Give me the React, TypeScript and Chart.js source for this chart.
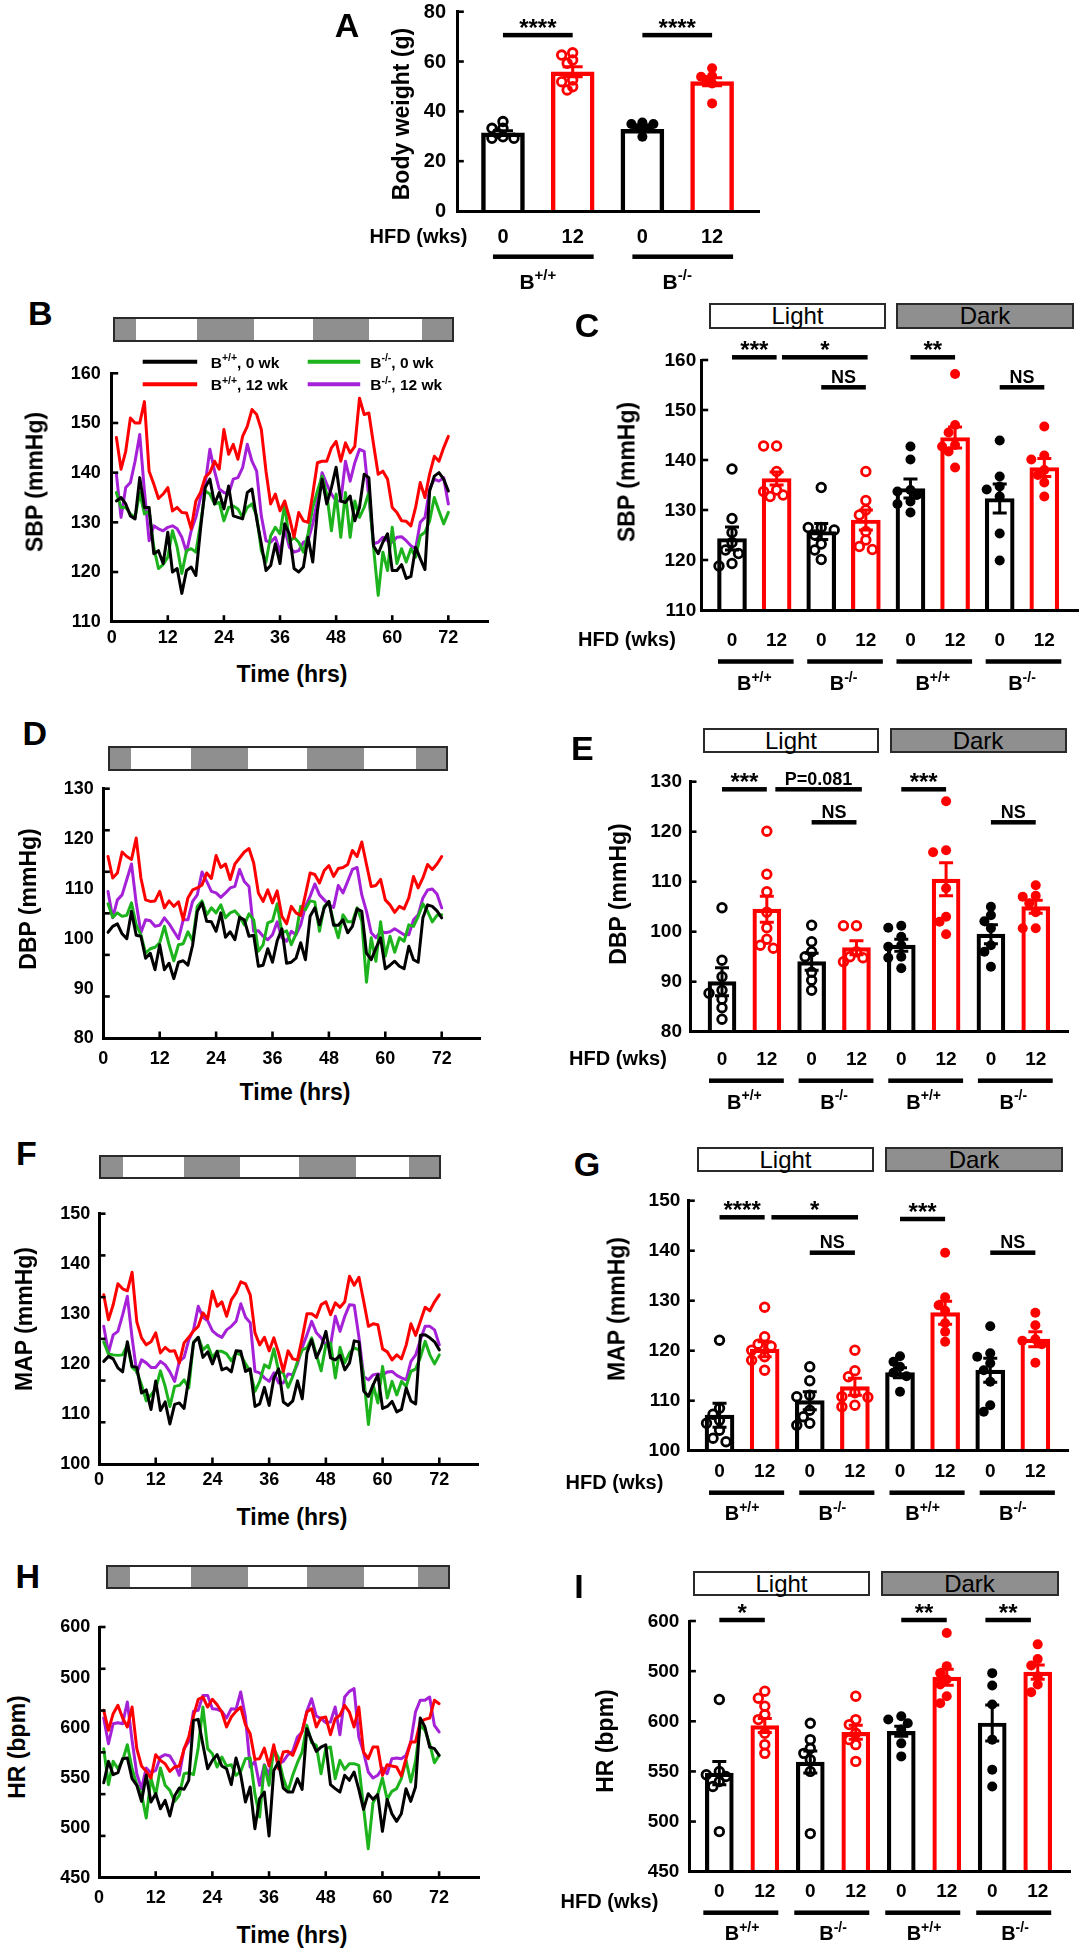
import React, { useEffect, useRef } from 'react';
import { Chart, registerables } from 'chart.js';

Chart.register(...registerables);

const FONT = '"Liberation Sans", Arial, Helvetica, sans-serif';
const BLACK = '#000000';
const RED = '#ff0000';
const GREEN = '#1db31d';
const PURPLE = '#a521d8';
const GRAY = '#8f8f8f';

// ---------------- time-series data (hourly means, 72 h) ----------------
const HOURS = Array.from({ length: 72 }, (_, i) => i + 1);
const TIME_TICKS = [0, 12, 24, 36, 48, 60, 72];
const DARK_PERIODS = [[0, 4.5], [17.5, 29.6], [42.2, 54.3], [65.6, 72]];

const SBP_WT0 = [134.3, 135, 133.7, 131.3, 130.7, 139, 133, 133, 123.7, 124.3, 121.7, 128, 120, 120.7, 115.7, 120.3, 121, 119.3, 128.7, 137, 138.7, 133.7, 136, 132.7, 137.3, 131.3, 131, 130.7, 136, 136.7, 130.7, 125.7, 120.3, 121.3, 125.7, 121.7, 129.7, 127.7, 120.7, 120, 121, 127, 122, 132.3, 138.7, 133.7, 137, 141.1, 134.3, 134, 135.3, 130.3, 133, 139.7, 139, 125.3, 123.7, 126, 127.7, 120.3, 120.3, 121.5, 118.7, 119.1, 125, 122.7, 120.5, 136.3, 139.3, 140, 138.7, 136.3];
const SBP_KO0 = [136, 133, 133, 131.7, 131, 136, 131.7, 132.3, 125, 120.7, 121.5, 123, 128.3, 125, 119.7, 124.3, 124.7, 124, 129.7, 136.3, 135.7, 133.7, 134, 130.3, 133, 133.3, 132.7, 131, 133, 133.7, 131.3, 124.3, 122, 127.3, 129, 127.7, 133.7, 126, 127, 126, 124, 127.7, 133, 136.3, 139.3, 135.7, 128.3, 135.7, 127, 136, 127, 134.3, 131, 133, 136, 125, 115.3, 124, 120.3, 129, 121.7, 124.7, 122, 124.7, 123, 127.3, 128, 130.3, 135, 132.3, 129.7, 132];
const SBP_WT12 = [147.1, 140.7, 144.3, 151, 150, 150, 154.3, 140.3, 137.7, 134.8, 135.7, 137, 132.3, 133, 132, 131.9, 128.7, 134.3, 136, 139.1, 140, 142.3, 140.7, 148.7, 143.7, 145.7, 142.7, 147.3, 149.3, 152.7, 151.7, 148.7, 140.3, 133.7, 135.7, 132.3, 134.3, 131, 127, 132, 130.3, 130, 135.7, 142, 142.3, 142.3, 145, 146.3, 142.3, 146, 144, 145.3, 155, 151.7, 152, 145.7, 139.7, 140.3, 138.7, 133, 132, 130.3, 130.2, 129.3, 133, 138, 135, 139.7, 143.3, 142.3, 145, 147.3];
const SBP_KO12 = [139.7, 131, 137, 138, 142.3, 147.7, 136.3, 126.3, 129.3, 128.7, 128.3, 129, 129.3, 128.7, 127, 124, 128.3, 131, 135, 137.7, 144.7, 140.3, 136.7, 136, 135.7, 138.7, 139, 141, 145.7, 142.3, 140.3, 131.3, 126.3, 126, 127, 124, 128.7, 125, 124, 124.3, 126, 126.3, 129.7, 134.3, 140, 137.7, 135.7, 134.3, 134.3, 142.3, 138.3, 142, 144.7, 144.3, 135, 125.7, 126, 127, 126.3, 126, 127, 127.1, 126.3, 125.3, 124.7, 130, 131, 136.7, 138.7, 138.3, 139, 133.7];

const DBP_WT0 = [101.2, 102.4, 102.9, 100.9, 99.9, 105.4, 100.6, 100.4, 96, 97, 93.7, 98.7, 93.7, 95, 91.9, 95.2, 95.5, 94.6, 98.6, 105.4, 107.1, 103.4, 103.3, 101.4, 105.1, 100.2, 101.3, 99.7, 104.2, 103.7, 100.4, 100.6, 94.4, 94.6, 97.9, 95.2, 99.5, 101.9, 95, 95.2, 96, 99.1, 95.7, 104.4, 106.1, 102.7, 106.1, 107.4, 102.6, 102.6, 103.7, 101.1, 102.4, 105.9, 105.4, 97, 95.7, 98, 100.1, 93.9, 94.6, 95.4, 94.4, 93.9, 98.4, 95.7, 95.2, 104.1, 106.7, 106.4, 105.5, 104.1];
const DBP_KO0 = [106.9, 104.2, 105.1, 104.4, 104.6, 107.1, 102.7, 100.7, 97, 97.9, 98.2, 99.1, 102.4, 98.7, 95.5, 98.7, 98.9, 101.3, 99.5, 106.4, 107.5, 104.7, 106.1, 105.1, 106.7, 104.1, 105.1, 105.5, 104.4, 102.7, 104.9, 103.7, 97.4, 98.7, 103.1, 103.5, 106.9, 101.1, 101.5, 98.7, 100.9, 106.4, 105.7, 107.5, 107.3, 101.4, 106.4, 107.3, 103.3, 100.1, 104.7, 103.3, 103.3, 106.1, 103.4, 91.2, 100.1, 95.4, 103.3, 96.4, 100.4, 97.2, 100.1, 99.4, 102.7, 102.4, 104.4, 106.9, 105.4, 103.3, 104.6, 104.7];
const DBP_WT12 = [116.4, 112.1, 113.1, 117.3, 116.4, 115.8, 120.1, 112.1, 107.7, 107.4, 107.5, 109.4, 106.1, 107.5, 106.4, 107.3, 103.7, 108.1, 109.7, 110.1, 110.7, 113.1, 112, 116.6, 114.2, 114.9, 111.8, 114.9, 116.1, 117.3, 118, 115.1, 109.1, 107.4, 109.7, 107.1, 109.5, 104.4, 102.9, 106.4, 105.1, 104.6, 108.7, 113.1, 112.8, 111.1, 113.6, 114.6, 112.4, 114, 114.2, 114.8, 117.6, 116.4, 119.3, 114.8, 110.4, 110.6, 111.8, 107.7, 106.7, 105.2, 106.4, 105.9, 108.1, 112.4, 110.1, 112.1, 114.8, 113.8, 114.9, 116.4];
const DBP_KO12 = [109.4, 104.1, 107.7, 108.7, 111.8, 114.9, 107.1, 101.1, 103.7, 103.5, 102.4, 102.6, 104.1, 102.9, 101.4, 99.9, 103.7, 103.7, 107.4, 108.7, 113.3, 111.4, 109.4, 109.1, 108.2, 109.1, 110.1, 110.4, 113.8, 111.4, 110.4, 101.4, 101.5, 100.4, 99.7, 100.7, 103.3, 100.1, 99.4, 101.4, 100.7, 102.7, 106.4, 108.4, 110.9, 108.7, 107.7, 106.7, 106.2, 110.6, 109.1, 111.4, 113.8, 114.2, 108.7, 105.4, 101.1, 100.1, 101.4, 101.1, 101.3, 101.9, 101.3, 100.7, 100.7, 103.7, 104.7, 108.1, 109.7, 109.9, 108.9, 106.1];

const MAP_WT0 = [120.5, 121.5, 121, 119.2, 118.4, 124.4, 119.5, 119.3, 114.2, 114.8, 110.9, 116.6, 110.7, 112.4, 108, 111.9, 112.2, 111.1, 117.2, 124.2, 125.3, 121.3, 122.4, 120, 122.5, 118.8, 119.2, 118.4, 122.6, 122.5, 118.5, 119, 111.5, 112, 115.3, 111.7, 117.2, 119, 112.4, 111.7, 112.6, 116.6, 113, 122.2, 124.8, 121.2, 123.3, 126.5, 121.2, 120.8, 121.7, 118.8, 120.2, 124.6, 124.4, 114.6, 113.5, 115.8, 117.8, 111.1, 111.5, 112.5, 110.4, 110.9, 115.2, 112.6, 112, 125.7, 125.8, 125.2, 124.4, 122.8];
const MAP_KO0 = [124.4, 122, 121.8, 121.7, 121.8, 123.8, 119.3, 118.5, 115.8, 112.6, 113.8, 115, 118.6, 115.5, 111.5, 115.5, 115.7, 116.8, 115.2, 124.4, 125.3, 122.8, 123.7, 121.3, 122.5, 122.5, 122, 120.6, 122.2, 121.8, 120, 118.5, 114.5, 116.5, 119.8, 119.2, 123, 118.5, 118.2, 115.3, 117.5, 120.5, 122.8, 123.2, 125.2, 121.8, 118.6, 123.8, 124.2, 117.2, 123.3, 120.2, 122.2, 123.2, 122.8, 117.5, 107.9, 115.8, 112.2, 119.5, 113.2, 116.5, 113.8, 116.5, 115.5, 118.5, 119, 121.3, 124.5, 121.8, 120, 121.8];
const MAP_WT12 = [133.8, 128.8, 131.8, 136, 135, 134.6, 138.3, 128.4, 125.2, 123.8, 124.4, 126.2, 122.2, 123.3, 122.5, 122.6, 120.2, 124.2, 125.3, 126.6, 127.5, 130.2, 129, 134.5, 131.5, 132.4, 129.5, 132.8, 134.2, 136.4, 136, 133.8, 126.2, 123.8, 125.3, 122.6, 125.2, 122.2, 118.5, 122.6, 121, 120.8, 125.2, 130, 130, 129.3, 131.8, 132.4, 129.8, 132.2, 131.3, 132.4, 137.5, 135.7, 137.3, 132.5, 127.5, 128, 127.8, 123, 122.4, 120.8, 121.8, 121, 123.8, 128, 125.7, 128.5, 131.3, 130.6, 132.4, 133.8];
const MAP_KO12 = [127.5, 122.2, 125.8, 126.5, 129.8, 133.5, 125.2, 118.2, 120.8, 120.2, 119.3, 119.3, 120.5, 119.8, 118.4, 116.5, 120.5, 121.3, 124.8, 126.8, 131.5, 129.3, 128.6, 126.6, 125.8, 125.3, 126.8, 127.5, 128.5, 132, 129.3, 128.2, 118.5, 118.2, 117.2, 116.5, 118.2, 116.2, 116.2, 118, 117.8, 120, 123.3, 125.8, 128.5, 126.2, 125.2, 123.8, 123.8, 129.5, 126.5, 129.5, 131.8, 131.7, 125.3, 117.5, 116.8, 117.8, 118, 117.8, 118.4, 118.5, 117.7, 117.2, 116.8, 120.5, 121.8, 124.8, 127.5, 127.5, 126.8, 123.8];

const HR_WT0 = [544.7, 566, 552.7, 554.7, 568.7, 569.4, 548.7, 542.1, 526.1, 552.1, 525.5, 533.8, 518.8, 527.1, 511.5, 531.5, 539.4, 538.1, 547.1, 606.9, 607.9, 582.6, 558.7, 567, 572.7, 561.4, 558.7, 542.8, 569.4, 552.7, 525.5, 540.4, 498.9, 528.8, 535.4, 491.6, 557, 565.4, 539.4, 535.4, 535.4, 548.7, 538.1, 598.6, 587, 576, 580.3, 582.6, 542.8, 538.8, 535.4, 552.1, 547.1, 555.4, 538.1, 518.2, 533.8, 528.1, 532.8, 496.2, 528.1, 513.8, 506.2, 513.8, 538.8, 526.1, 540.4, 609.2, 600.3, 580.3, 578.7, 572];
const HR_KO0 = [578.7, 542.8, 566, 558.7, 567, 582.6, 558.7, 542.8, 533.8, 509.5, 549.4, 532.1, 559.4, 542.1, 537.1, 526.1, 532.1, 553.7, 554.7, 552.7, 579.3, 620.2, 578.7, 573.7, 560.4, 570.3, 561.4, 562.7, 552.1, 556, 568.7, 569.4, 533.8, 510.5, 562, 542.1, 578.7, 569.4, 549.4, 536.1, 552.1, 564.7, 575.3, 601.9, 584.6, 582, 553.7, 578.7, 580.3, 548.7, 567, 558, 563.7, 563.7, 562, 520.5, 478.9, 524.8, 532.8, 549.4, 528.1, 536.1, 538.8, 548.7, 567, 545.4, 566, 601.9, 597, 583.6, 564.7, 572];
const HR_WT12 = [616.9, 597, 613.6, 621.9, 609.2, 600.3, 620.2, 578.7, 561.4, 556, 549.4, 572.7, 567, 563.7, 556, 560.4, 561.4, 578, 590.3, 611.2, 627.9, 630.2, 620.2, 627.9, 622.5, 615.2, 600.3, 610.2, 615.9, 620.2, 602.6, 593.6, 568, 568.7, 579.3, 561.4, 582.6, 558.7, 575.3, 576, 572, 583.6, 596, 615.2, 618.5, 600.3, 609.2, 610.2, 592.6, 608.6, 611.9, 621.9, 615.2, 600.3, 620.2, 575.3, 568.7, 580.3, 580.3, 552.1, 562.7, 561.4, 560.4, 551.4, 568.7, 585.3, 585.3, 605.3, 607.9, 609.2, 626.9, 623.5];
const HR_KO12 = [609.2, 583.6, 603.6, 604.6, 603.6, 625.2, 587, 553.7, 538.8, 559.4, 554.7, 557, 570.3, 572.7, 571.3, 563.7, 552.1, 578.7, 586, 615.9, 616.9, 631.8, 631.8, 618.5, 617.9, 615.9, 609.2, 618.5, 617.9, 635.2, 610.2, 560.4, 566, 542.1, 562.7, 552.1, 578, 563.7, 566, 572.7, 576, 590.3, 595.3, 615.9, 628.5, 611.2, 608.6, 604.6, 605.3, 620.2, 592.6, 630.2, 635.8, 638.5, 590.3, 575.3, 555.4, 549.4, 552.1, 559.4, 553.7, 568.7, 569.4, 568.7, 572, 585.3, 615.2, 626.9, 626.9, 630.2, 601.9, 595.3];

// ---------------- bar / dot data ----------------
const HFD_4 = ['0', '12', '0', '12'];
const GENO_4 = ['+/+', '-/-'];
const FILLED_4 = [false, false, true, true];
const HFD_8 = ['0', '12', '0', '12', '0', '12', '0', '12'];
const GENO_8 = ['+/+', '-/-', '+/+', '-/-'];
const FILLED_8 = [false, false, false, false, true, true, true, true];

const BW_MEAN = [31.4, 55.9, 32.8, 51.9];
const BW_SEM = [0.8, 2.0, 0.6, 1.6];
const BW_POINTS = [
  [35.9, 33.2, 33.2, 31.2, 29.8, 29.2, 29.2],
  [63.5, 62.6, 60.6, 59.3, 52.6, 51.9, 49.9, 48.6],
  [34.9, 35.5, 34.9, 33.2, 33.2, 29.8],
  [57.3, 53.9, 54.2, 51.2, 52.6, 43.2],
];

const SBP_MEAN = [124.3, 136.3, 125.7, 128, 134.3, 144.5, 132.3, 138.5];
const SBP_SEM = [2.3, 1.3, 1.6, 2.0, 1.9, 2.1, 2.9, 1.8];
const SBP_POINTS = [
  [138.2, 128.3, 125.5, 123.5, 122, 121.3, 119.3, 118.8],
  [142.8, 142.8, 137.7, 134, 133.7, 133, 132.7],
  [134.5, 126.5, 126.5, 126, 125, 123.2, 122, 120.1],
  [137.7, 131.9, 130, 129, 125.7, 124, 122.7, 122.1],
  [142.7, 140.1, 134, 133.7, 133, 131.7, 131.2, 129.5],
  [157.2, 147, 145.5, 143, 142.7, 141.7, 138.5],
  [143.9, 136.7, 134.7, 134.1, 132.7, 125.3, 119.9],
  [146.7, 140.9, 140.1, 138, 137, 135.5, 132.7],
];

const DBP_MEAN = [90, 104.5, 94, 96.8, 97.3, 110.5, 99.5, 105];
const DBP_SEM = [2.8, 2.6, 1.7, 1.4, 1.2, 3.3, 1.9, 1.3];
const DBP_POINTS = [
  [104.8, 94.3, 91, 88.3, 87.7, 86.5, 84.8, 82.5],
  [120.1, 111.5, 108, 103.9, 100.8, 98.5, 97.3, 96.7],
  [101.3, 98, 96, 95, 91.9, 90.3, 88.3],
  [101.2, 101.2, 96, 95, 94.8, 94],
  [100.8, 101.2, 99, 97.3, 97, 95, 94.8, 92.7],
  [126.1, 116.3, 115.9, 108.7, 103, 102, 99.5],
  [105, 103.3, 102.1, 100.7, 97.3, 96, 93],
  [109.3, 107.2, 107, 105.7, 103.9, 100.7, 100.7],
];

const MAP_MEAN = [107.1, 120.3, 110, 112.8, 115.6, 127.6, 116.1, 122.3];
const MAP_SEM = [2.4, 1.5, 1.8, 1.7, 1.0, 2.3, 2.4, 1.5];
const MAP_POINTS = [
  [122.1, 108.5, 107.3, 106.1, 105.5, 104.1, 102.5, 101.8],
  [128.7, 122.8, 121.3, 120.9, 120.1, 118.8, 118.1, 116.1],
  [116.8, 114, 111.1, 110.8, 108.1, 106.8, 105.5, 105.1],
  [120.1, 116, 114.8, 111.6, 110.8, 110.7, 109.1, 108.8],
  [118.9, 117.8, 116.8, 115.6, 114.9, 111.8],
  [139.6, 130.7, 129.1, 128, 125.5, 123.8, 121.8],
  [124.9, 119.5, 118.8, 117.5, 116.1, 113.8, 109.1, 107.8],
  [127.6, 125.1, 122.3, 122, 121.3, 117.6],
];

const HR_MEAN = [548.3, 595.7, 559.3, 589, 590, 644, 598.3, 649];
const HR_SEM = [11.7, 7, 11, 7, 5, 8, 18, 7];
const HR_POINTS = [
  [621.7, 550, 546.7, 545, 540, 535, 490],
  [630, 623, 615, 606.7, 601.7, 588, 576.7, 568],
  [598, 581.7, 573, 568, 561.7, 550, 488],
  [625, 601.7, 596.7, 588, 581.7, 576.7, 560],
  [605, 601.7, 598, 591.7, 578, 565],
  [688, 655, 648, 641.7, 636.7, 625, 618],
  [648, 635.7, 616.7, 581.7, 551.7, 535],
  [676.7, 662, 655.7, 645, 636.7, 629],
];

// axis ticks
const BW_TICKS = [0, 20, 40, 60, 80];
const SBP_TICKS = [110, 120, 130, 140, 150, 160];
const DBP_TICKS = [80, 90, 100, 110, 120, 130];
const MAP_TICKS = [100, 110, 120, 130, 140, 150];
const HR_TICKS = [450, 500, 550, 600, 650, 700];
const HR_TICK_LABELS = ['450', '500', '550', '600', '500', '600'];

// significance annotations
const A_SIGS = [
  { a: 1, b: 2, y: 70.6, text: '****' },
  { a: 3, b: 4, y: 70.6, text: '****' },
];
const C_SIGS = [
  { a: 1, b: 2, y: 160.54, text: '***' },
  { a: 2.12, b: 4.04, y: 160.54, text: '*' },
  { a: 5, b: 6, y: 160.54, text: '**' },
  { a: 3, b: 4, y: 154.54, text: 'NS' },
  { a: 7, b: 8, y: 154.54, text: 'NS' },
];
const E_SIGS = [
  { a: 1, b: 2, y: 128.48, text: '***' },
  { a: 2.19, b: 4.12, y: 128.48, text: 'P=0.081' },
  { a: 5, b: 6, y: 128.48, text: '***' },
  { a: 3, b: 4, y: 121.88, text: 'NS' },
  { a: 7, b: 8, y: 121.88, text: 'NS' },
];
const G_SIGS = [
  { a: 1, b: 2, y: 146.68, text: '****' },
  { a: 2.15, b: 4.07, y: 146.68, text: '*' },
  { a: 5, b: 6, y: 146.34, text: '***' },
  { a: 3, b: 4, y: 139.6, text: 'NS' },
  { a: 7, b: 8, y: 139.6, text: 'NS' },
];
const I_SIGS = [
  { a: 1, b: 2, y: 701, text: '*' },
  { a: 5, b: 6, y: 701, text: '**' },
  { a: 6.85, b: 7.85, y: 701, text: '**' },
];

const SERIES_NAMES = {
  wt0: ['B', '+/+', ', 0 wk'],
  ko0: ['B', '-/-', ', 0 wk'],
  wt12: ['B', '+/+', ', 12 wk'],
  ko12: ['B', '-/-', ', 12 wk'],
};
const SERIES_COLORS = { wt0: BLACK, ko0: GREEN, wt12: RED, ko12: PURPLE };
// drawn top-most first
const SERIES_ORDER = ['wt0', 'wt12', 'ko0', 'ko12'];

// ---------------- helpers ----------------
function font(size, weight = 'bold') {
  return `${weight} ${size}px ${FONT}`;
}

function drawSup(ctx, parts, x, yCenter, size, supSize, align) {
  const [base, sup, rest] = parts;
  ctx.font = font(size);
  const w1 = ctx.measureText(base).width;
  const w3 = rest ? ctx.measureText(rest).width : 0;
  ctx.font = font(supSize);
  const w2 = ctx.measureText(sup).width;
  const total = w1 + w2 + w3;
  const sx = align === 'center' ? x - total / 2 : x;
  const by = yCenter + 0.358 * size;
  ctx.textAlign = 'left';
  ctx.textBaseline = 'alphabetic';
  ctx.font = font(size);
  ctx.fillText(base, sx, by);
  ctx.font = font(supSize);
  ctx.fillText(sup, sx + w1, by - 0.42 * size);
  if (rest) {
    ctx.font = font(size);
    ctx.fillText(rest, sx + w1 + w2, by);
  }
}

function swarm(pys, cx, minDist, step) {
  const order = pys.map((_, i) => i).sort((a, b) => pys[a] - pys[b]);
  const placed = [];
  const out = new Array(pys.length);
  for (const i of order) {
    const y = pys[i];
    for (let k = 0; k < 16; k++) {
      const off = (k % 2 === 1 ? -1 : 1) * Math.ceil(k / 2) * step;
      const x = cx + off;
      if (placed.every(([px, py]) => Math.hypot(px - x, py - y) >= minDist)) {
        placed.push([x, y]);
        out[i] = [x, y];
        break;
      }
    }
    if (!out[i]) out[i] = [cx, y];
  }
  return out;
}

function layoutFor(box, area) {
  return {
    autoPadding: false,
    padding: {
      left: area.left - box.left,
      top: area.top - box.top,
      right: box.left + box.width - area.right,
      bottom: box.top + box.height - area.bottom,
    },
  };
}

function axisOpts(isX, min, max) {
  return {
    type: 'linear',
    min,
    max,
    offset: false,
    display: true,
    grid: { display: false, drawTicks: false },
    ticks: { display: false },
    border: { display: true, color: '#000', width: 3, z: 1 },
    afterFit: (s) => {
      if (isX) s.height = 0;
      else s.width = 0;
    },
  };
}

function baseOptions(box, area) {
  return {
    responsive: false,
    maintainAspectRatio: false,
    animation: false,
    devicePixelRatio: 1,
    events: [],
    layout: layoutFor(box, area),
    plugins: { legend: { display: false }, tooltip: { enabled: false }, title: { display: false } },
  };
}

// ---------------- line panels ----------------
function lineConfig(p) {
  const plugin = {
    id: 'linePanel' + p.id,
    afterDraw(chart) {
      const { ctx, chartArea: a } = chart;
      const xs = chart.scales.x;
      const ys = chart.scales.y;
      ctx.save();
      ctx.strokeStyle = '#000';
      ctx.fillStyle = '#000';
      ctx.lineWidth = 2.6;
      const marks = p.yMarkDiv
        ? Array.from({ length: p.yMarkDiv }, (_, k) => p.yMin + ((k + 1) * (p.yMax - p.yMin)) / p.yMarkDiv)
        : p.yTicks.filter((v) => v > p.yMin);
      marks.forEach((v) => {
        const y = ys.getPixelForValue(v);
        ctx.beginPath();
        ctx.moveTo(a.left, y);
        ctx.lineTo(a.left + 6.5, y);
        ctx.stroke();
      });
      TIME_TICKS.filter((t) => t > 0).forEach((t) => {
        const x = xs.getPixelForValue(t);
        ctx.beginPath();
        ctx.moveTo(x, a.bottom);
        ctx.lineTo(x, a.bottom - 6.5);
        ctx.stroke();
      });
      ctx.font = font(18);
      ctx.textAlign = 'right';
      ctx.textBaseline = 'middle';
      p.yTicks.forEach((v, i) => ctx.fillText(p.yLabels[i], a.left - p.yGap, ys.getPixelForValue(v) + 0.5));
      ctx.textAlign = 'center';
      TIME_TICKS.forEach((t) => ctx.fillText(String(t), xs.getPixelForValue(t), a.bottom + p.xLabOff));
      if (p.legend) {
        const pos = { wt0: [0, 0], ko0: [1, 0], wt12: [0, 1], ko12: [1, 1] };
        const rowsY = [-11.6, 11];
        const lineX = [[31, 85.5], [196, 248.5]];
        const textX = [99, 258.5];
        chart.data.datasets.forEach((ds) => {
          const [c, r] = pos[ds.key];
          const y = a.top + rowsY[r];
          ctx.strokeStyle = ds.borderColor;
          ctx.lineWidth = 4;
          ctx.beginPath();
          ctx.moveTo(a.left + lineX[c][0], y);
          ctx.lineTo(a.left + lineX[c][1], y);
          ctx.stroke();
          ctx.fillStyle = '#000';
          drawSup(ctx, SERIES_NAMES[ds.key], a.left + textX[c], y + 0.5, 15.5, 10.5, 'left');
        });
      }
      ctx.restore();
    },
  };
  return {
    type: 'line',
    data: {
      datasets: SERIES_ORDER.map((key) => ({
        key,
        data: p.series[key].map((v, i) => ({ x: HOURS[i], y: v })),
        borderColor: SERIES_COLORS[key],
        borderWidth: 3,
        pointRadius: 0,
        tension: 0,
        fill: false,
        borderJoinStyle: 'round',
        borderCapStyle: 'round',
      })),
    },
    options: {
      ...baseOptions(p.box, p.area),
      scales: { x: axisOpts(true, 0, p.xMax), y: axisOpts(false, p.yMin, p.yMax) },
    },
    plugins: [plugin],
  };
}

// ---------------- bar panels ----------------
function barConfig(p) {
  const colorOf = (i) => (p.hfd[i] === '12' ? RED : BLACK);
  const plugin = {
    id: 'barPanel' + p.id,
    afterDatasetsDraw(chart) {
      const { ctx } = chart;
      const xs = chart.scales.x;
      const ys = chart.scales.y;
      ctx.save();
      p.points.forEach((vals, i) => {
        const cx = xs.getPixelForValue(i + 1);
        const color = colorOf(i);
        const pos = swarm(vals.map((v) => ys.getPixelForValue(v)), cx, p.swarmDist, p.swarmStep);
        pos.forEach(([x, y]) => {
          ctx.beginPath();
          if (p.filled[i]) {
            ctx.arc(x, y, 5, 0, Math.PI * 2);
            ctx.fillStyle = color;
            ctx.fill();
          } else {
            ctx.arc(x, y, 4.3, 0, Math.PI * 2);
            ctx.strokeStyle = color;
            ctx.lineWidth = 2.8;
            ctx.stroke();
          }
        });
      });
      p.means.forEach((m, i) => {
        const cx = xs.getPixelForValue(i + 1);
        const yTop = ys.getPixelForValue(m + p.sem[i]);
        const yBot = ys.getPixelForValue(m - p.sem[i]);
        ctx.strokeStyle = colorOf(i);
        ctx.lineWidth = 3;
        ctx.beginPath();
        ctx.moveTo(cx, yTop);
        ctx.lineTo(cx, yBot);
        ctx.moveTo(cx - p.capHalf, yTop);
        ctx.lineTo(cx + p.capHalf, yTop);
        ctx.moveTo(cx - p.capHalf, yBot);
        ctx.lineTo(cx + p.capHalf, yBot);
        ctx.stroke();
      });
      ctx.restore();
    },
    afterDraw(chart) {
      const { ctx, chartArea: a } = chart;
      const xs = chart.scales.x;
      const ys = chart.scales.y;
      ctx.save();
      ctx.strokeStyle = '#000';
      ctx.fillStyle = '#000';
      ctx.lineWidth = 2.6;
      p.yTicks.filter((v) => v > p.yMin).forEach((v) => {
        const y = ys.getPixelForValue(v);
        ctx.beginPath();
        ctx.moveTo(a.left, y);
        ctx.lineTo(a.left + 6.5, y);
        ctx.stroke();
      });
      ctx.font = font(p.tickFont);
      ctx.textAlign = 'right';
      ctx.textBaseline = 'middle';
      p.yTicks.forEach((v, i) => ctx.fillText(p.yLabels[i], a.left - p.yGap, ys.getPixelForValue(v) + 0.5));
      p.sigs.forEach((s) => {
        const x1 = xs.getPixelForValue(s.a);
        const x2 = xs.getPixelForValue(s.b);
        const yy = ys.getPixelForValue(s.y);
        ctx.fillRect(x1, yy - 2.25, x2 - x1, 4.5);
        const star = /^\*+$/.test(s.text);
        ctx.font = font(star ? 24 : 18);
        ctx.textAlign = 'center';
        ctx.textBaseline = 'alphabetic';
        ctx.fillText(s.text, (x1 + x2) / 2, star ? yy + 1 : yy - 4.5);
      });
      const r = p.rows;
      ctx.textAlign = 'center';
      ctx.textBaseline = 'middle';
      ctx.font = font(r.numFont);
      p.hfd.forEach((lab, i) => ctx.fillText(lab, xs.getPixelForValue(i + 1), a.bottom + r.num + 0.5));
      ctx.font = font(r.hfdFont);
      ctx.fillText('HFD (wks)', a.left + r.hfdX, a.bottom + r.hfd + 0.5);
      p.geno.forEach((g, gi) => {
        const x1 = xs.getPixelForValue(gi * 2 + 1);
        const x2 = xs.getPixelForValue(gi * 2 + 2);
        ctx.fillRect(x1 - r.padL, a.bottom + r.bar - 2.25, x2 - x1 + r.padL + r.padR, 4.5);
        drawSup(ctx, ['B', g, ''], (x1 + x2) / 2, a.bottom + r.geno, r.genoFont, r.supFont, 'center');
      });
      ctx.restore();
    },
  };
  return {
    type: 'bar',
    data: {
      datasets: [
        {
          data: p.means.map((m, i) => ({ x: i + 1, y: m })),
          backgroundColor: '#ffffff',
          borderColor: p.means.map((_, i) => colorOf(i)),
          borderWidth: p.barBorder,
          borderSkipped: 'start',
          barThickness: p.barWidth,
        },
      ],
    },
    options: {
      ...baseOptions(p.box, p.area),
      scales: { x: axisOpts(true, p.xMin, p.xMax), y: axisOpts(false, p.yMin, p.yMax) },
    },
    plugins: [plugin],
  };
}

// ---------------- panel definitions ----------------
const ROWS_8 = { numFont: 19, hfdFont: 20, genoFont: 20, supFont: 14 };

const LINE_PANELS = [
  {
    id: 'B', box: { left: 40, top: 345, width: 460, height: 310 }, area: { left: 111.7, top: 373.3, right: 488.3, bottom: 621.7 },
    xMax: 80.55, yMin: 110, yMax: 160, yTicks: SBP_TICKS, yLabels: SBP_TICKS.map(String), yMarkDiv: null, yGap: 11, xLabOff: 16.6,
    legend: true, series: { wt0: SBP_WT0, ko0: SBP_KO0, wt12: SBP_WT12, ko12: SBP_KO12 },
  },
  {
    id: 'D', box: { left: 40, top: 775, width: 450, height: 300 }, area: { left: 103.3, top: 788.7, right: 480, bottom: 1038 },
    xMax: 80.15, yMin: 80, yMax: 130, yTicks: DBP_TICKS, yLabels: DBP_TICKS.map(String), yMarkDiv: 6, yGap: 9.5, xLabOff: 21,
    legend: false, series: { wt0: DBP_WT0, ko0: DBP_KO0, wt12: DBP_WT12, ko12: DBP_KO12 },
  },
  {
    id: 'F', box: { left: 40, top: 1195, width: 450, height: 300 }, area: { left: 99, top: 1213.7, right: 478.3, bottom: 1464 },
    xMax: 80.25, yMin: 100, yMax: 150, yTicks: MAP_TICKS, yLabels: MAP_TICKS.map(String), yMarkDiv: 6, yGap: 8.7, xLabOff: 16,
    legend: false, series: { wt0: MAP_WT0, ko0: MAP_KO0, wt12: MAP_WT12, ko12: MAP_KO12 },
  },
  {
    id: 'H', box: { left: 40, top: 1610, width: 450, height: 300 }, area: { left: 99, top: 1627, right: 479.5, bottom: 1877.7 },
    xMax: 80.55, yMin: 450, yMax: 700, yTicks: HR_TICKS, yLabels: HR_TICK_LABELS, yMarkDiv: 6, yGap: 8.7, xLabOff: 20.5,
    legend: false, series: { wt0: HR_WT0, ko0: HR_KO0, wt12: HR_WT12, ko12: HR_KO12 },
  },
];

const BAR_PANELS = [
  {
    id: 'A', box: { left: 350, top: 0, width: 420, height: 300 }, area: { left: 457.3, top: 11.7, right: 759.5, bottom: 211 },
    xMin: 0.345, xMax: 4.68, yMin: 0, yMax: 80, yTicks: BW_TICKS, yLabels: BW_TICKS.map(String), yGap: 11.3, tickFont: 20,
    means: BW_MEAN, sem: BW_SEM, points: BW_POINTS, hfd: HFD_4, geno: GENO_4, filled: FILLED_4,
    barWidth: 43, barBorder: 4.5, capHalf: 10, sigs: A_SIGS, swarmDist: 6, swarmStep: 5.5,
    rows: { num: 25.7, hfd: 25.7, hfdX: -38.8, bar: 45.7, geno: 70.7, padL: 10, padR: 21, numFont: 20, hfdFont: 20, genoFont: 21, supFont: 15 },
  },
  {
    id: 'C', box: { left: 560, top: 335, width: 524, height: 365 }, area: { left: 701.7, top: 360, right: 1078, bottom: 610 },
    xMin: 0.321, xMax: 8.755, yMin: 110, yMax: 160, yTicks: SBP_TICKS, yLabels: SBP_TICKS.map(String), yGap: 5.5, tickFont: 19,
    means: SBP_MEAN, sem: SBP_SEM, points: SBP_POINTS, hfd: HFD_8, geno: GENO_8, filled: FILLED_8,
    barWidth: 29, barBorder: 4.2, capHalf: 7, sigs: C_SIGS, swarmDist: 8, swarmStep: 6.5,
    rows: { num: 30, hfd: 30, hfdX: -74.7, bar: 51.5, geno: 73, padL: 14, padR: 17, ...ROWS_8 },
  },
  {
    id: 'E', box: { left: 560, top: 765, width: 524, height: 355 }, area: { left: 690, top: 781.7, right: 1068, bottom: 1031.7 },
    xMin: 0.286, xMax: 8.72, yMin: 80, yMax: 130, yTicks: DBP_TICKS, yLabels: DBP_TICKS.map(String), yGap: 8, tickFont: 19,
    means: DBP_MEAN, sem: DBP_SEM, points: DBP_POINTS, hfd: HFD_8, geno: GENO_8, filled: FILLED_8,
    barWidth: 28, barBorder: 4.2, capHalf: 7, sigs: E_SIGS, swarmDist: 8, swarmStep: 6.5,
    rows: { num: 27.3, hfd: 27.3, hfdX: -72, bar: 49, geno: 70, padL: 13, padR: 17, ...ROWS_8 },
  },
  {
    id: 'G', box: { left: 560, top: 1190, width: 524, height: 340 }, area: { left: 688.3, top: 1200.7, right: 1068.3, bottom: 1450.7 },
    xMin: 0.308, xMax: 8.73, yMin: 100, yMax: 150, yTicks: MAP_TICKS, yLabels: MAP_TICKS.map(String), yGap: 8, tickFont: 19,
    means: MAP_MEAN, sem: MAP_SEM, points: MAP_POINTS, hfd: HFD_8, geno: GENO_8, filled: FILLED_8,
    barWidth: 29, barBorder: 4.2, capHalf: 7, sigs: G_SIGS, swarmDist: 8, swarmStep: 6.5,
    rows: { num: 21, hfd: 32.3, hfdX: -73.8, bar: 42, geno: 62.6, padL: 10.5, padR: 19.5, ...ROWS_8 },
  },
  {
    id: 'I', box: { left: 560, top: 1600, width: 524, height: 350 }, area: { left: 689.4, top: 1621, right: 1070, bottom: 1871.7 },
    xMin: 0.342, xMax: 8.71, yMin: 450, yMax: 700, yTicks: HR_TICKS, yLabels: HR_TICK_LABELS, yGap: 10, tickFont: 19,
    means: HR_MEAN, sem: HR_SEM, points: HR_POINTS, hfd: HFD_8, geno: GENO_8, filled: FILLED_8,
    barWidth: 28, barBorder: 4.2, capHalf: 7, sigs: I_SIGS, swarmDist: 8, swarmStep: 6.5,
    rows: { num: 20, hfd: 30, hfdX: -79.9, bar: 41, geno: 61.6, padL: 16, padR: 13.5, ...ROWS_8 },
  },
];

// ---------------- components ----------------
function ChartBox({ box, build }) {
  const ref = useRef(null);
  useEffect(() => {
    const chart = new Chart(ref.current, build());
    return () => chart.destroy();
  }, []);
  return (
    <canvas
      ref={ref}
      width={box.width}
      height={box.height}
      style={{ position: 'absolute', left: box.left, top: box.top, width: box.width, height: box.height }}
    />
  );
}

function Txt({ x, y, size, weight = 'bold', rot = false, children }) {
  return (
    <div
      style={{
        position: 'absolute',
        left: x,
        top: y,
        transform: `translate(-50%, -50%)${rot ? ' rotate(-90deg)' : ''}`,
        font: `${weight} ${size}px ${FONT}`,
        lineHeight: 1,
        whiteSpace: 'nowrap',
        color: '#000',
      }}
    >
      {children}
    </div>
  );
}

function LightDarkStrip({ x, y, w, h }) {
  return (
    <div
      style={{
        position: 'absolute', left: x, top: y, width: w, height: h,
        border: '2.5px solid #2a2a2a', boxSizing: 'border-box', background: '#fff',
      }}
    >
      {DARK_PERIODS.map(([s, e], i) => (
        <div
          key={i}
          style={{
            position: 'absolute', top: 0, bottom: 0,
            left: `${(s / 72) * 100}%`, width: `${((e - s) / 72) * 100}%`, background: GRAY,
          }}
        />
      ))}
    </div>
  );
}

function PhaseBox({ x, y, w, h, dark, children }) {
  return (
    <div
      style={{
        position: 'absolute', left: x, top: y, width: w, height: h,
        border: '2.5px solid #2a2a2a', boxSizing: 'border-box',
        background: dark ? GRAY : '#fff', display: 'flex', alignItems: 'center', justifyContent: 'center',
        font: `normal 24px ${FONT}`, color: '#000', lineHeight: 1,
      }}
    >
      {children}
    </div>
  );
}

const LETTERS = [
  ['A', 347, 25], ['B', 40.3, 312.5], ['C', 587, 325], ['D', 34.8, 733], ['E', 582.4, 747.5],
  ['F', 26.4, 1153], ['G', 587, 1164], ['H', 27.8, 1576], ['I', 579, 1586],
];
const Y_TITLES = [
  ['Body weight (g)', 401, 114], ['SBP (mmHg)', 35, 482], ['SBP (mmHg)', 627, 472],
  ['DBP (mmHg)', 27.5, 899], ['DBP (mmHg)', 618.3, 894], ['MAP (mmHg)', 24.3, 1319],
  ['MAP (mmHg)', 616.7, 1309], ['HR (bpm)', 16.7, 1747], ['HR (bpm)', 604.6, 1741],
];
const X_TITLES = [[292, 674], [295, 1092], [292, 1517], [292, 1935]];
const STRIPS = [
  [113.3, 316.7, 340.5, 25], [107.7, 746, 340.6, 24.7], [99.4, 1155, 342, 24.3], [106.3, 1565, 343.4, 24],
];
const PHASE_BOXES = [
  [709, 303, 177, 25.5, 896], [703, 728, 176, 25, 889.5], [697, 1147, 177, 25, 885], [693, 1571, 177, 25, 880.5],
];

export default function App() {
  return (
    <div style={{ position: 'absolute', left: 0, top: 0, width: 1084, height: 1950, background: '#fff', overflow: 'hidden' }}>
      {BAR_PANELS.map((p) => (
        <ChartBox key={p.id} box={p.box} build={() => barConfig(p)} />
      ))}
      {LINE_PANELS.map((p) => (
        <ChartBox key={p.id} box={p.box} build={() => lineConfig(p)} />
      ))}
      {STRIPS.map(([x, y, w, h], i) => (
        <LightDarkStrip key={'s' + i} x={x} y={y} w={w} h={h} />
      ))}
      {PHASE_BOXES.map(([x, y, w, h, dx], i) => (
        <React.Fragment key={'p' + i}>
          <PhaseBox x={x} y={y} w={w} h={h} dark={false}>Light</PhaseBox>
          <PhaseBox x={dx} y={y} w={w + 1} h={h} dark={true}>Dark</PhaseBox>
        </React.Fragment>
      ))}
      {LETTERS.map(([t, x, y]) => (
        <Txt key={t} x={x} y={y} size={34}>{t}</Txt>
      ))}
      {Y_TITLES.map(([t, x, y], i) => (
        <Txt key={'y' + i} x={x} y={y} size={23} rot>{t}</Txt>
      ))}
      {X_TITLES.map(([x, y], i) => (
        <Txt key={'x' + i} x={x} y={y} size={23}>Time (hrs)</Txt>
      ))}
    </div>
  );
}
